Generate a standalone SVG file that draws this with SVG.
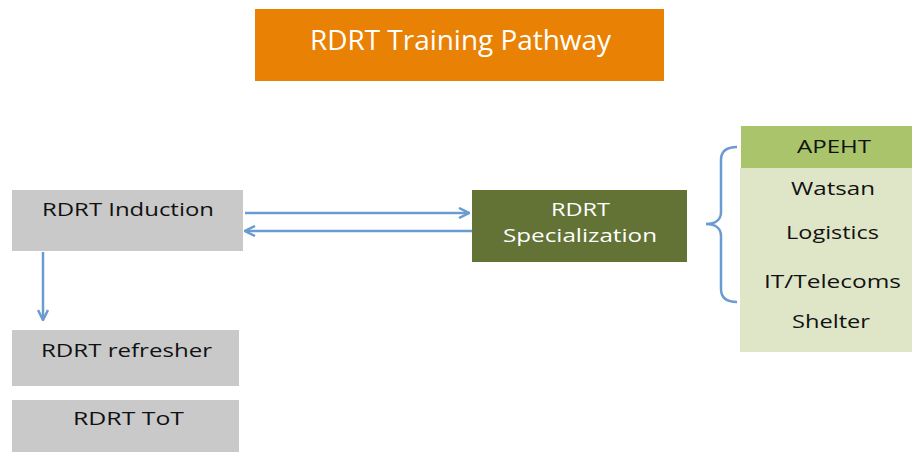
<svg xmlns="http://www.w3.org/2000/svg" width="912" height="452" viewBox="0 0 912 452">
<style>
.t{font-family:"Open Sans","Liberation Sans",sans-serif;text-anchor:middle;font-size:19px}
.d{fill:#111}
.w{fill:#fff}
.g{fill:#c9c9c9}
.c{stroke:#6a9bd1;stroke-width:2.5;fill:none}
</style>
<defs>
<marker id="ah" viewBox="0 0 10 10" refX="9" refY="5" markerWidth="5" markerHeight="5" orient="auto" markerUnits="strokeWidth">
<path d="M1,1 L9,5 L1,9" fill="none" stroke="#6a9bd1" stroke-width="2"/>
</marker>
</defs>
<rect width="912" height="452" fill="#fff"/>
<g id="title">
<rect x="255" y="9" width="409" height="72" fill="#e98204"/>
<text class="t w" x="460.5" y="50" style="font-size:28px" textLength="301" lengthAdjust="spacingAndGlyphs">RDRT Training Pathway</text>
</g>
<g id="induction">
<rect class="g" x="12" y="190" width="231" height="61"/>
<text class="t d" x="128" y="216" textLength="172" lengthAdjust="spacingAndGlyphs">RDRT Induction</text>
</g>
<g id="refresher">
<rect class="g" x="12" y="330" width="227" height="56"/>
<text class="t d" x="126.5" y="357" textLength="171" lengthAdjust="spacingAndGlyphs">RDRT refresher</text>
</g>
<g id="tot">
<rect class="g" x="12" y="400" width="227" height="52"/>
<text class="t d" x="128.5" y="425" textLength="111" lengthAdjust="spacingAndGlyphs">RDRT ToT</text>
</g>
<g id="specialization">
<rect x="472" y="190" width="215" height="72" fill="#627335"/>
<text class="t w" x="580.5" y="216" textLength="59" lengthAdjust="spacingAndGlyphs">RDRT</text>
<text class="t w" x="580" y="242" textLength="154" lengthAdjust="spacingAndGlyphs">Specialization</text>
</g>
<g id="areas">
<rect x="740" y="168" width="172" height="184" fill="#dfe6c8"/>
<rect x="741" y="126" width="171" height="42" fill="#a9c46a"/>
<text class="t d" x="834" y="153" textLength="74" lengthAdjust="spacingAndGlyphs">APEHT</text>
<text class="t d" x="833" y="195" textLength="84" lengthAdjust="spacingAndGlyphs">Watsan</text>
<text class="t d" x="832.5" y="239" textLength="93" lengthAdjust="spacingAndGlyphs">Logistics</text>
<text class="t d" x="832.5" y="288" textLength="137" lengthAdjust="spacingAndGlyphs">IT/Telecoms</text>
<text class="t d" x="831" y="328" textLength="78" lengthAdjust="spacingAndGlyphs">Shelter</text>
</g>
<g id="connectors">
<line class="c" x1="245" y1="213" x2="469" y2="213" marker-end="url(#ah)"/>
<line class="c" x1="472" y1="231" x2="245" y2="231" marker-end="url(#ah)"/>
<line class="c" x1="43" y1="252" x2="43" y2="320" marker-end="url(#ah)"/>
<path class="c" d="M737,147 C726,147 721,151 721,160 L721,212 C721,220 715,224 706,224 C715,224 721,228 721,236 L721,289 C721,298 726,302 737,302"/>
</g>
</svg>
